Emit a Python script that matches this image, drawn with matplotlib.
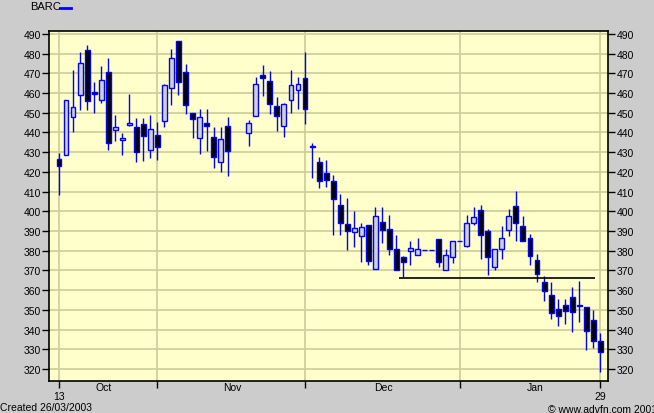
import numpy as np
import matplotlib
matplotlib.use("Agg")
import matplotlib.pyplot as plt

plt.rcParams['font.family'] = ['Liberation Sans', 'DejaVu Sans']

# daily candles, BARC (pence); nan = no data that day
opens = [426.6, 428.7, 447.9, 459.2, 481.9, 460.3, 456.7, 470.6, 441.1, 436.1,
         444.0, 442.7, 444.2, 431.1, 438.6, 445.7, 462.4, 486.3, 470.6, 449.8,
         437.1, 444.7, 437.6, 424.9, 443.5, np.nan, np.nan, 439.6, 448.2, 469.2,
         466.0, 453.6, 443.5, 456.4, 461.4, 467.5, 433.0, 424.9, 419.3, 415.6,
         403.1, 393.4, 389.7, 387.3, 392.9, 370.9, 394.4, 390.9, 380.7, 376.7,
         379.7, 377.7, 380.5, 380.5, 386.0, 370.1, 376.7, 384.8, 382.6, 393.9,
         400.5, 389.9, 371.6, 381.0, 390.4, 402.6, 392.4, 386.3, 375.2, 364.2,
         357.4, 350.3, 352.5, 356.4, 352.3, 351.3, 344.9, 334.0]
highs = [429.6, 456.5, 471.7, 480.7, 484.4, 465.8, 473.8, 477.7, 448.9, 439.8,
         459.6, 447.4, 447.4, 448.9, 445.2, 464.6, 482.4, 486.3, 474.8, 449.8,
         451.9, 451.9, 442.7, 442.7, 447.7, np.nan, np.nan, 446.4, 468.3, 474.3,
         471.1, 457.9, 455.0, 471.7, 468.3, 480.7, 434.7, 427.4, 426.1, 418.3,
         408.8, 406.8, 400.0, 393.9, 392.9, 402.1, 402.1, 398.2, 388.0, 377.5,
         384.8, 386.3, 380.5, 380.5, 386.0, 380.7, 384.8, 384.8, 398.2, 402.1,
         403.2, 391.0, 380.7, 392.4, 401.2, 410.2, 397.5, 388.7, 378.4, 367.2,
         364.2, 355.5, 355.5, 361.6, 364.8, 351.3, 350.0, 338.3]
lows = [408.5, 428.7, 440.4, 451.6, 451.6, 449.9, 455.0, 431.3, 435.5, 428.8,
        443.5, 425.2, 425.7, 426.9, 426.2, 443.0, 454.0, 459.2, 449.4, 437.1,
        429.1, 430.8, 421.8, 419.8, 418.1, np.nan, np.nan, 433.0, 448.2, 458.4,
        449.4, 440.6, 437.6, 449.8, 451.9, 444.3, 416.8, 411.7, 412.2, 388.2,
        388.2, 380.6, 382.1, 374.2, 372.9, 370.9, 383.9, 377.9, 370.1, 366.8,
        372.9, 377.7, 380.5, 380.5, 371.6, 370.1, 373.8, 384.8, 381.8, 393.2,
        375.8, 367.8, 370.4, 376.0, 387.3, 384.8, 384.8, 372.9, 364.3, 354.7,
        345.4, 342.0, 343.0, 338.9, 344.0, 329.8, 330.7, 318.6]
closes = [422.9, 456.5, 453.0, 475.1, 456.2, 459.6, 466.7, 434.5, 442.7, 437.2,
          444.6, 430.0, 438.4, 441.8, 432.5, 464.1, 477.7, 465.5, 454.1, 446.7,
          447.7, 443.2, 427.4, 436.7, 430.8, np.nan, np.nan, 444.7, 464.6, 467.5,
          454.3, 448.2, 454.3, 464.1, 464.5, 451.8, 432.6, 415.3, 415.9, 406.1,
          393.9, 390.2, 391.4, 391.9, 374.9, 397.5, 390.7, 380.7, 370.1, 374.2,
          381.3, 380.7, 380.5, 380.5, 374.2, 377.9, 384.8, 384.8, 393.9, 397.0,
          387.8, 376.7, 380.7, 386.3, 397.5, 393.9, 384.8, 377.3, 368.1, 359.4,
          348.3, 346.7, 349.3, 348.8, 351.9, 339.1, 334.0, 328.8]

support_level = 366
support_from, support_to = 48.3, 76.3

tick_days = [0, 14, 35, 57, 77]
tick_labels = ['13', '', '', '', '29']
month_pos = [6.4, 24.6, 46.2, 67.7]
month_names = ['Oct', 'Nov', 'Dec', 'Jan']

o = np.array(opens); h = np.array(highs); l = np.array(lows); c = np.array(closes)
x = np.arange(len(o))
ok = ~np.isnan(o)
up = ok & (c >= o)
down = ok & (c < o)

fig = plt.figure(figsize=(6.54, 4.14), dpi=100, facecolor='#cccccc')
ax = fig.add_axes([0.0749, 0.0773, 0.8548, 0.8454])
ax.set_facecolor('#ffffcc')

blue = '#0000ff'
ax.vlines(x[ok], l[ok], h[ok], color=blue, lw=1, zorder=3)
ax.bar(x[up], (c - o)[up], bottom=o[up], width=0.7, color='#d0d0d0',
       edgecolor=blue, linewidth=1, zorder=4)
ax.bar(x[down], (o - c)[down], bottom=c[down], width=0.7, color='black',
       edgecolor=blue, linewidth=1, zorder=4)

ax.hlines(support_level, support_from, support_to, color='black', lw=1.2, zorder=5)

ax.set_xlim(-1.42, 78.1)
ax.set_ylim(313.9, 491.5)
ax.set_yticks(np.arange(320, 491, 10))
ax.set_xticks(tick_days)
ax.set_xticklabels(tick_labels)
ax.set_xticks(month_pos, minor=True)
ax.set_xticklabels(month_names, minor=True)
ax.tick_params(axis='x', which='major', length=5, width=1, pad=2.5, labelsize=7.5)
ax.tick_params(axis='x', which='minor', length=0, pad=0.8, labelsize=7.5)
ax.tick_params(axis='y', length=5, width=1, labelsize=7.5, pad=1,
               left=True, right=True, labelleft=True, labelright=True)
ax.grid(True, which='major', color='#cccc99', lw=1.2)
ax.set_axisbelow(True)
for s in ax.spines.values():
    s.set_linewidth(1.2)

fig.text(30 / 654, 1 - 7 / 414, 'BARC', fontsize=8, va='center', ha='left')
fig.add_artist(plt.Line2D([60 / 654, 71 / 654], [1 - 9 / 414, 1 - 9 / 414],
                          color=blue, lw=2))
fig.text(0, 1 - 403 / 414, 'Created 26/03/2003', fontsize=7.5, va='top', ha='left')
fig.text(548 / 654, 1 - 405 / 414, '\u00a9 www.advfn.com 2001', fontsize=7.5,
         va='top', ha='left')

fig.savefig('out.png', dpi=100, facecolor=fig.get_facecolor())
